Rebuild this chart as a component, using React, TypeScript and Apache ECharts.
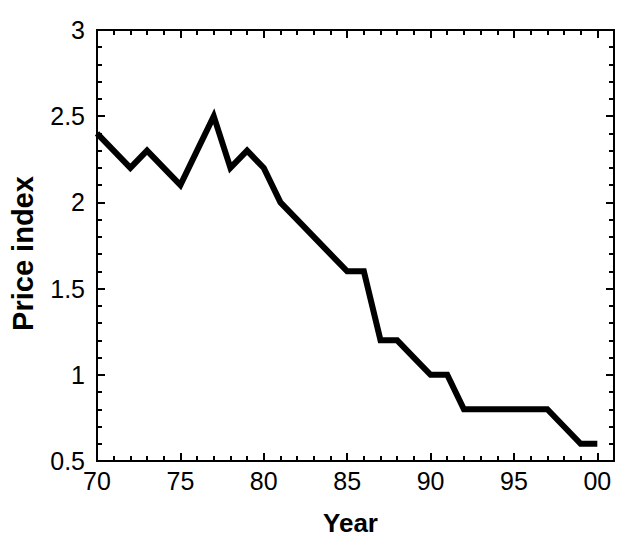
import React, { useEffect, useRef } from "react";
import * as echarts from "echarts";

const years: number[] = [70, 71, 72, 73, 74, 75, 76, 77, 78, 79, 80, 81, 82, 83, 84, 85, 86, 87, 88, 89, 90, 91, 92, 93, 94, 95, 96, 97, 98, 99, 100];
const priceIndex: number[] = [2.4, 2.3, 2.2, 2.3, 2.2, 2.1, 2.3, 2.5, 2.2, 2.3, 2.2, 2.0, 1.9, 1.8, 1.7, 1.6, 1.6, 1.2, 1.2, 1.1, 1.0, 1.0, 0.8, 0.8, 0.8, 0.8, 0.8, 0.8, 0.7, 0.6, 0.6];
const xTitle = "Year";
const yTitle = "Price index";

const FONT = "'Liberation Sans', Arial, Helvetica, sans-serif";

export default function App() {
  const ref = useRef<HTMLDivElement>(null);
  useEffect(() => {
    document.body.style.margin = "0";
    if (!ref.current) return;
    const chart = echarts.init(ref.current, undefined, { renderer: "svg" });
    const lineStyle = { color: "#000", width: 2 };
    const xBase = (pos: "bottom" | "top", major: boolean, show: boolean) => ({
      type: "value" as const,
      position: pos,
      min: 70,
      max: 101,
      interval: major ? 5 : 1,
      axisLine: { show: true, lineStyle },
      axisTick: { show: true, inside: true, length: major ? 8 : 5, lineStyle: { color: "#000", width: 2 } },
      axisLabel: {
        show,
        color: "#000",
        fontSize: 25,
        fontFamily: FONT,
        margin: 7,
        formatter: (v: number) => (v % 5 === 0 ? String(v % 100).padStart(2, "0") : ""),
      },
      splitLine: { show: false },
      name: show ? xTitle : "",
      nameLocation: "middle" as const,
      nameGap: 49,
      nameTextStyle: { color: "#000", fontSize: 26, fontWeight: "bold" as const, fontFamily: FONT, padding: [0, 10, 0, 0] },
    });
    const yBase = (pos: "left" | "right", show: boolean) => ({
      type: "value" as const,
      position: pos,
      min: 0.5,
      max: 3,
      interval: 0.5,
      axisLine: { show: true, lineStyle },
      axisTick: { show: true, inside: true, length: 8, lineStyle: { color: "#000", width: 2 } },
      minorTick: { show: true, splitNumber: 5, length: 5, lineStyle: { color: "#000", width: 2 } },
      axisLabel: {
        show,
        color: "#000",
        fontSize: 25,
        fontFamily: FONT,
        margin: 12,
      },
      splitLine: { show: false },
      name: show ? yTitle : "",
      nameLocation: "middle" as const,
      nameGap: 60,
      nameTextStyle: { color: "#000", fontSize: 29, fontWeight: "bold" as const, fontFamily: FONT, padding: [0, 16, 0, 0] },
      nameRotate: 90,
    });
    chart.setOption({
      animation: false,
      backgroundColor: "#fff",
      grid: { left: 94, top: 30, right: 2, bottom: 64, containLabel: false },
      xAxis: [xBase("bottom", true, true), xBase("bottom", false, false), xBase("top", true, false), xBase("top", false, false)],
      yAxis: [yBase("left", true), yBase("right", false)],
      series: [
        {
          type: "line",
          xAxisIndex: 0,
          yAxisIndex: 0,
          data: years.map((y, i) => [y, priceIndex[i]]),
          showSymbol: false,
          symbol: "none",
          lineStyle: { color: "#000", width: 6, join: "miter" },
          z: 5,
        },
      ],
    });
    return () => chart.dispose();
  }, []);
  return <div ref={ref} style={{ width: 617, height: 541 }} />;
}
